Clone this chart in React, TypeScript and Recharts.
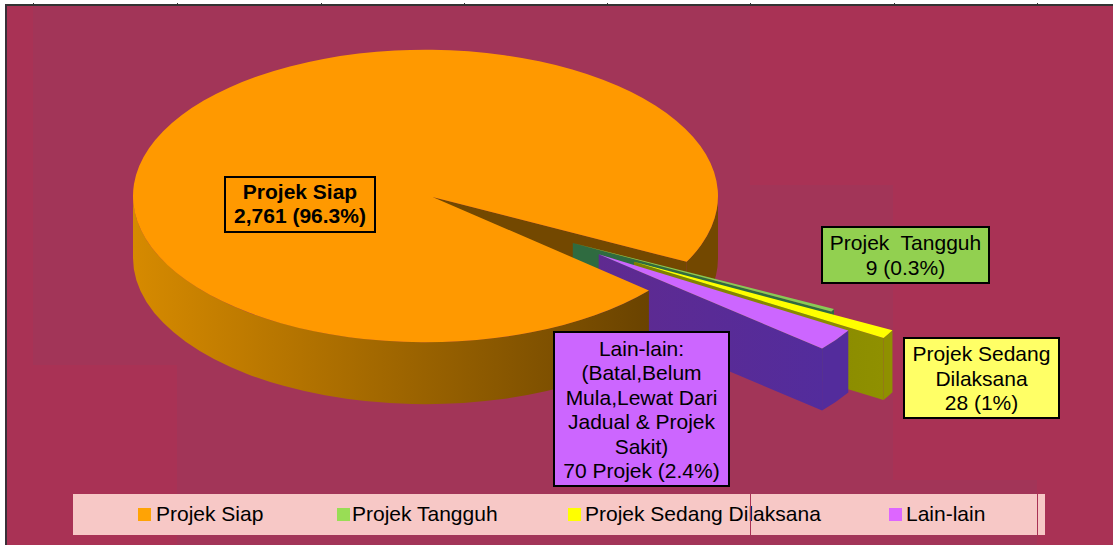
import React from "react";
import { PieChart, Pie, Legend } from "recharts";

// ---- data
const categories = ["Projek Siap", "Projek Tangguh", "Projek Sedang Dilaksana", "Lain-lain"];
const projectCounts = [2761, 9, 28, 70];
const topColors = ["#ff9900", "#88cc55", "#ffff00", "#cc66ff"];
const calloutText = [
  ["Projek Siap", "2,761 (96.3%)"],
  ["Projek  Tangguh", "9 (0.3%)"],
  ["Projek Sedang", "Dilaksana", "28 (1%)"],
  ["Lain-lain:", "(Batal,Belum", "Mula,Lewat Dari", "Jadual & Projek", "Sakit)", "70 Projek (2.4%)"],
];
const rows = categories.map((name, i) => ({ name, value: projectCounts[i], fill: topColors[i] }));

// ---- layout and style
const W = 1113;
const H = 545;
const CX = 425.5;
const CY = 196;
const RX = 292.5;
const SQUASH = 0.5;
const DEPTH = 62;
const START = -40.2;
const APEX_SHIFT = [7, 1];
const explodeAcross = [0, 0.567, 0.82, 0.73];
const explodeDown = [0, 0.7, 0.91, 0.68];
const wallFrom = ["#d68a00", "#2f6b40", "#7d7e00", "#5f2a90"];
const wallTo = ["#6a4300", "#2f6b40", "#8f9000", "#532c9c"];
const legendKeys = ["#ffa305", "#99dd55", "#ffff00", "#dd66ff"];
const legendIconX = [65, 264, 495, 816];
const legendTextX = [83, 279, 512, 833];
const calloutBox = [
  { x: 225, y: 177, w: 150, h: 55, fill: "#ff9900", bold: true, first: 199, step: 24 },
  { x: 822, y: 227, w: 167, h: 56, fill: "#92d050", bold: false, first: 250, step: 25 },
  { x: 904, y: 338, w: 155, h: 80, fill: "#ffff66", bold: false, first: 361, step: 24.5 },
  { x: 554, y: 332, w: 175, h: 154, fill: "#cc66ff", bold: false, first: 356, step: 24.4 },
];
const FONT = "'Liberation Sans', Arial, sans-serif";
const BASE = "#a93255";
const PLUM = "#a23558";
const bands = [
  { left: 33, top: 5, width: 717, height: 360 },
  { left: 177, top: 365, width: 573, height: 180 },
  { left: 750, top: 185, width: 143, height: 360 },
  { left: 893, top: 480, width: 144, height: 65 },
];
const topTicks = [33, 177, 321, 464, 607, 750, 894, 1037];

const rad = (d: number) => (d * Math.PI) / 180;
const pt = (x: number, y: number, rx: number, d: number): [number, number] => [
  x + rx * Math.cos(rad(d)),
  y + rx * SQUASH * Math.sin(rad(d)),
];
const arcTo = (rx: number, p: number[], large: number, sweep: number) =>
  `A${rx} ${rx * SQUASH} 0 ${large} ${sweep} ${p[0]} ${p[1]}`;

const wallArc = (x: number, y: number, rx: number, a: number, b: number) => {
  const p = pt(x, y, rx, a);
  const q = pt(x, y, rx, b);
  return `M${p[0]} ${p[1]}${arcTo(rx, q, 0, 1)}L${q[0]} ${q[1] + DEPTH}${arcTo(rx, [p[0], p[1] + DEPTH], 0, 0)}Z`;
};
const wallFlat = (a: number[], b: number[]) =>
  `M${a[0]} ${a[1]}L${b[0]} ${b[1]}L${b[0]} ${b[1] + DEPTH}L${a[0]} ${a[1] + DEPTH}Z`;

const sideGradient = (id: string, i: number, x1: number, x2: number) => (
  <defs>
    <linearGradient id={id} gradientUnits="userSpaceOnUse" x1={x1} x2={x2} y1={0} y2={0}>
      <stop offset="0" stopColor={wallFrom[i]} />
      <stop offset="1" stopColor={wallTo[i]} />
    </linearGradient>
  </defs>
);

// Layer behind: the far walls of the big slice and the three pulled-out slices.
const BackSector = (props: any) => {
  const { cx, cy, outerRadius: rx, startAngle, endAngle, index, fill, value } = props;
  const s = -startAngle;
  const e = -endAngle;
  const i = index ?? projectCounts.indexOf(value);
  if (i === 0) {
    const apex = [cx + APEX_SHIFT[0], cy + APEX_SHIFT[1]];
    return (
      <g>
        <path d={wallArc(cx, cy, rx, 360, e)} fill="#734800" />
        <path d={wallFlat(apex, pt(cx, cy, rx, e))} fill="#734800" />
      </g>
    );
  }
  const mid = (s + e) / 2;
  const x = cx + rx * Math.cos(rad(mid)) * explodeAcross[i];
  const y = cy + rx * SQUASH * Math.sin(rad(mid)) * explodeDown[i];
  const a = pt(x, y, rx, s);
  const b = pt(x, y, rx, e);
  const id = `side-${i}`;
  return (
    <g>
      {sideGradient(id, i, x, b[0])}
      <path d={wallFlat([x, y], b)} fill={`url(#${id})`} />
      <path d={wallArc(x, y, rx, s, e)} fill={wallTo[i]} />
      <path d={`M${x} ${y}L${a[0]} ${a[1]}${arcTo(rx, b, 0, 1)}Z`} fill={fill} />
    </g>
  );
};

// Layer in front: the near wall and the top of the big slice.
const FrontSector = (props: any) => {
  const { cx, cy, outerRadius: rx, startAngle, endAngle, index, fill, value } = props;
  const i = index ?? projectCounts.indexOf(value);
  if (i !== 0) return <g />;
  const s = -startAngle;
  const e = -endAngle;
  const a = pt(cx, cy, rx, s);
  const b = pt(cx, cy, rx, e);
  return (
    <g>
      {sideGradient("side-0", 0, cx - rx, a[0])}
      <path d={wallArc(cx, cy, rx, s, 180)} fill="url(#side-0)" />
      <path
        d={`M${cx + APEX_SHIFT[0]} ${cy + APEX_SHIFT[1]}L${a[0]} ${a[1]}${arcTo(rx, b, 1, 1)}Z`}
        fill={fill}
      />
    </g>
  );
};

const Callout = (props: any) => {
  const i = props.index;
  const box = calloutBox[i];
  const lines = calloutText[i];
  return (
    <g>
      <rect x={box.x} y={box.y} width={box.w} height={box.h} fill={box.fill} stroke="#000" strokeWidth={2} />
      {lines.map((line, k) => (
        <text
          key={k}
          x={box.x + box.w / 2}
          y={box.first + k * box.step}
          textAnchor="middle"
          fontFamily={FONT}
          fontSize={21}
          fontWeight={box.bold ? 700 : 400}
          fill="#000"
          style={{ whiteSpace: "pre" }}
        >
          {line}
        </text>
      ))}
    </g>
  );
};

const LegendRow = (props: any) => {
  const seen = new Set<string>();
  const items = (props.payload || []).filter((entry: any) => {
    if (entry.type === "none" || seen.has(entry.value)) return false;
    seen.add(entry.value);
    return true;
  });
  return (
    <div style={{ position: "relative", width: "100%", height: "100%" }}>
      {items.map((entry: any) => {
        const i = categories.indexOf(entry.value);
        return (
          <React.Fragment key={entry.value}>
            <span
              style={{
                position: "absolute",
                left: legendIconX[i],
                top: 14,
                width: 13,
                height: 13,
                background: legendKeys[i],
              }}
            />
            <span
              style={{
                position: "absolute",
                left: legendTextX[i],
                top: 8,
                fontFamily: FONT,
                fontSize: 21,
                lineHeight: "24px",
                color: "#000",
                whiteSpace: "nowrap",
              }}
            >
              {entry.value}
            </span>
          </React.Fragment>
        );
      })}
    </div>
  );
};

export default function App() {
  return (
    <div style={{ position: "absolute", left: 0, top: 0, width: W, height: H, background: "#fff", overflow: "hidden" }}>
      <div style={{ position: "absolute", left: 6, top: 5, right: 0, bottom: 0, background: BASE }} />
      {bands.map((b, i) => (
        <div key={i} style={{ position: "absolute", ...b, background: PLUM }} />
      ))}
      <div style={{ position: "absolute", left: 5, top: 4, width: W - 5, height: 1.5, background: "#333" }} />
      <div style={{ position: "absolute", left: 5, top: 4, width: 1.5, height: H - 4, background: "#3a3038" }} />
      {topTicks.map((x) => (
        <div key={x} style={{ position: "absolute", left: x, top: 3, width: 1, height: 2, background: "#333" }} />
      ))}
      <div style={{ position: "absolute", left: 0, top: 0 }}>
        <PieChart width={W} height={H} margin={{ top: 0, right: 0, bottom: 0, left: 0 }}>
          <Legend
            content={<LegendRow />}
            itemSorter={null}
            wrapperStyle={{ position: "absolute", left: 73, top: 494, width: 972, height: 41, background: "#f7c8c6" }}
          />
          <Pie
            data={rows}
            dataKey="value"
            nameKey="name"
            cx={CX}
            cy={CY}
            outerRadius={RX}
            startAngle={START}
            endAngle={START - 360}
            isAnimationActive={false}
            legendType="none"
            label={false}
            shape={BackSector}
          />
          <Pie
            data={rows}
            dataKey="value"
            nameKey="name"
            cx={CX}
            cy={CY}
            outerRadius={RX}
            startAngle={START}
            endAngle={START - 360}
            isAnimationActive={false}
            legendType="square"
            label={Callout}
            labelLine={false}
            shape={FrontSector}
          />
        </PieChart>
      </div>
      <div style={{ position: "absolute", left: 750, top: 494, width: 1, height: 41, background: BASE }} />
      <div style={{ position: "absolute", left: 1037, top: 494, width: 1, height: 41, background: BASE }} />
    </div>
  );
}
